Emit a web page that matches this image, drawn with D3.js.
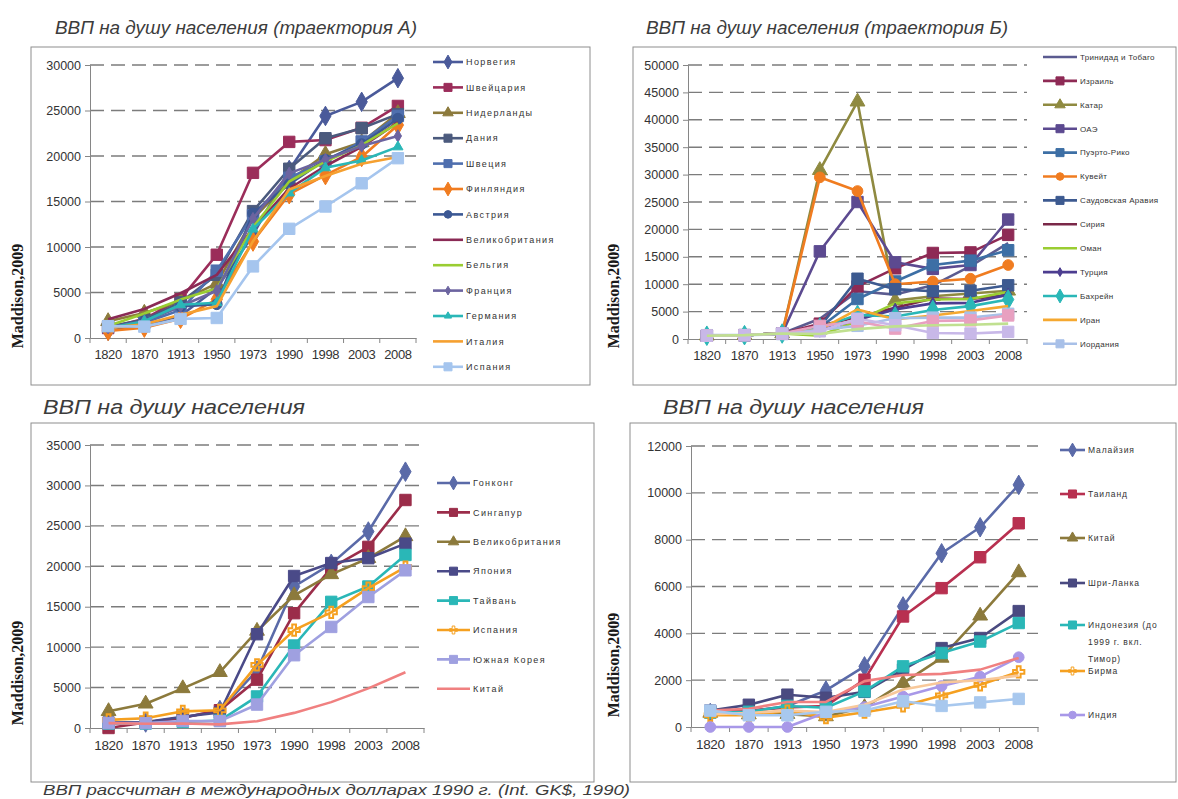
<!DOCTYPE html>
<html>
<head>
<meta charset="utf-8">
<script src="https://cdn.jsdelivr.net/npm/d3@7"></script>
<style>
  body { margin: 0; background: #fff; }
  svg text { font-family: Arial, "Liberation Sans", sans-serif; }
</style>
</head>
<body>
<svg id="chart" width="1178" height="799"></svg>
<script>
// ---- data (GDP per capita, 1990 Int. GK$) ----
const years = ['1820', '1870', '1913', '1950', '1973', '1990', '1998', '2003', '2008'];

// trajectory A
const namesA = ['Норвегия', 'Швейцария', 'Нидерланды', 'Дания', 'Швеция', 'Финляндия', 'Австрия',
  'Великобритания', 'Бельгия', 'Франция', 'Германия', 'Италия', 'Испания'];
const valuesA = [
  [801, 1360, 2447, 5463, 11324, 18466, 24400, 25950, 28550],
  [1090, 2102, 4266, 9150, 18150, 21550, 21750, 23100, 25500],
  [1838, 2757, 4049, 5996, 13081, 17262, 20200, 21500, 24700],
  [1274, 2003, 3912, 6943, 13945, 18600, 21950, 23050, 24600],
  [1198, 1662, 3073, 7400, 13493, 17609, 19400, 21600, 24400],
  [781, 1140, 2111, 4253, 10600, 15800, 17900, 19900, 23400],
  [1218, 1863, 3465, 3706, 13700, 16895, 19600, 21300, 24100],
  [2074, 3190, 4921, 6939, 12025, 16430, 18900, 21000, 23700],
  [1319, 2692, 4220, 5462, 12170, 17197, 19400, 21200, 23600],
  [1135, 1876, 3485, 5186, 13114, 18093, 19600, 21100, 22200],
  [1077, 1839, 3648, 3881, 11966, 15929, 18700, 19500, 21000],
  [1117, 1499, 2564, 3502, 10634, 16313, 17800, 19150, 19900],
  [1300, 1250, 2100, 2200, 7870, 12000, 14450, 17000, 19760]
];

// trajectory B (last three series are not listed in the legend)
const namesB = ['Тринидад и Тобаго', 'Израиль', 'Катар', 'ОАЭ', 'Пуэрто-Рико', 'Кувейт',
  'Саудовская Аравия', 'Сирия', 'Оман', 'Турция', 'Бахрейн', 'Иран', 'Иордания',
  'Ливан', 'Ирак', 'Йемен'];
const valuesB = [
  [600, 700, 1000, 3700, 8700, 8100, 9800, 13300, 17500],
  [600, 700, 1000, 2800, 9600, 12900, 15700, 15800, 19000],
  [600, 700, 1000, 30800, 43300, 7000, 7800, 8300, 8800],
  [600, 700, 1000, 16000, 25000, 14000, 12800, 13500, 21800],
  [600, 700, 1000, 2100, 7300, 10500, 13500, 14300, 16200],
  [600, 700, 1000, 29500, 27000, 10000, 10500, 11000, 13500],
  [600, 700, 1000, 2200, 11000, 9100, 8700, 8800, 9800],
  [600, 700, 1000, 2400, 4000, 5700, 7400, 7300, 8000],
  [600, 700, 1000, 600, 3300, 6500, 7200, 7300, 8600],
  [600, 700, 1000, 1600, 3500, 5400, 6500, 6600, 8100],
  [600, 700, 1000, 2100, 4400, 4100, 5300, 6000, 7200],
  [600, 700, 1000, 1700, 5400, 3600, 4300, 5100, 6000],
  [700, 700, 900, 1700, 2400, 3800, 3900, 3900, 4600],
  [600, 700, 1000, 2400, 3200, 1900, 3300, 3400, 4300],
  [600, 700, 1000, 1400, 3700, 2500, 1100, 1000, 1300],
  [600, 700, 1000, 900, 1800, 2300, 2500, 2600, 2800]
];

// East Asia vs UK / Spain
const namesC = ['Гонконг', 'Сингапур', 'Великобритания', 'Япония', 'Тайвань', 'Испания', 'Южная Корея', 'Китай'];
const valuesC = [
  [600, 680, 1280, 2220, 7100, 17500, 20300, 24300, 31700],
  [0, 680, 1280, 2200, 5980, 14200, 19800, 22400, 28200],
  [2070, 3000, 4900, 6900, 12000, 16400, 19000, 21000, 23700],
  [670, 740, 1390, 1920, 11600, 18800, 20400, 21000, 22800],
  [550, 550, 750, 920, 3900, 10200, 15600, 17500, 21400],
  [1010, 1210, 2060, 2190, 7800, 12100, 14300, 17300, 19900],
  [600, 600, 870, 850, 2900, 9000, 12500, 16200, 19500],
  [600, 530, 550, 450, 840, 1870, 3200, 4900, 6900]
];

// South / South-East Asia (last three series are not listed in the legend)
const namesD = ['Малайзия', 'Таиланд', 'Китай', 'Шри-Ланка', 'Индонезия (до 1999 г. вкл. Тимор)',
  'Бирма', 'Индия', 'Филиппины', 'Пакистан', 'Бангладеш'];
const valuesD = [
  [600, 660, 900, 1560, 2590, 5150, 7420, 8530, 10340],
  [650, 700, 840, 900, 2020, 4720, 5930, 7250, 8700],
  [600, 530, 550, 450, 840, 1870, 2950, 4750, 6600],
  [700, 950, 1380, 1250, 1500, 2450, 3370, 3800, 4950],
  [610, 650, 900, 820, 1520, 2590, 3160, 3650, 4440],
  [500, 500, 680, 400, 630, 900, 1350, 1800, 2350],
  [0, 0, 0, 620, 850, 1300, 1750, 2150, 2980],
  [700, 780, 1070, 1070, 1960, 2220, 2270, 2450, 2950],
  [550, 600, 700, 640, 950, 1600, 1900, 2000, 2200],
  [700, 500, 500, 650, 700, 1100, 900, 1050, 1200]
];

// ---- styles ----
const colorsA = ['#4a5a9a', '#9b2d5a', '#8c7a3c', '#4b5a7d', '#4f6fae', '#f07c20', '#3b5894',
  '#8a2a55', '#9acd32', '#6c64a0', '#2ab7b7', '#f5a030', '#a5c5ee'];
const marksA = ['D', 'S', 'T', 'S', 'S', 'D', 'C', '', '', 'd', 't', '', 'S'];
const colorsB = ['#5b5b90', '#8e2a55', '#8f8a40', '#5c4a90', '#3d6fa5', '#f07c20', '#3d5a90',
  '#7a2848', '#9acd32', '#4c3d90', '#2ab7b7', '#f5a830', '#a8c0e8', '#e8a0c0', '#c8b8e8', '#c0e090'];
const marksB = ['', 'S', 'T', 'S', 'S', 'C', 'S', '', '', 'd', 'D', '', 'S', 'S', 'S', ''];
const colorsC = ['#5a6aa8', '#9b2d4a', '#8c7a3c', '#4a4a88', '#2ab7b7', '#f5a020', '#9fa0e0', '#f08080'];
const marksC = ['D', 'S', 'T', 'S', 'S', 'X', 'S', ''];
const colorsD = ['#5a6aa8', '#b83050', '#8c7a3c', '#4a4a80', '#2ab7b7', '#f5a020', '#a898e8',
  '#f08080', '#f8c89a', '#a8c8ee'];
const marksD = ['D', 'S', 'T', 'S', 'S', 'X', 'C', '', '', 'S'];

const panels = [
  { title: 'ВВП на душу населения (траектория А)', tx: 55, ty: 34, tlen: 362, tsize: 18,
    frame: [31, 47, 590, 385], lab: [23, 296], xfont: 13,
    plot: [90, 416, 338, 65], yMax: 30000, yStep: 5000,
    names: namesA, values: valuesA, colors: colorsA, marks: marksA, nLeg: 13,
    leg: { x0: 433, x1: 463, rows: d3.range(13).map(i => 62 + i * 25.4), size: 9, ls: 1.4 } },
  { title: 'ВВП на душу населения (траектория Б)', tx: 646, ty: 34, tlen: 362, tsize: 18,
    frame: [633, 47, 1176, 385], lab: [619, 296], xfont: 13,
    plot: [688, 1027, 339, 65], yMax: 50000, yStep: 5000,
    names: namesB, values: valuesB, colors: colorsB, marks: marksB, nLeg: 13,
    leg: { x0: 1043, x1: 1077, rows: d3.range(13).map(i => 57 + i * 23.9), size: 8, ls: 0.3 } },
  { title: 'ВВП на душу населения', tx: 43, ty: 414, tlen: 262, tsize: 19.5,
    frame: [31, 423, 594, 782], lab: [23, 673], xfont: 13.5,
    plot: [90, 424, 728, 445], yMax: 35000, yStep: 5000,
    names: namesC, values: valuesC, colors: colorsC, marks: marksC, nLeg: 8,
    leg: { x0: 437, x1: 470, rows: d3.range(8).map(i => 483 + i * 29.4), size: 9, ls: 1.4 } },
  { title: 'ВВП на душу населения', tx: 663, ty: 414, tlen: 261, tsize: 19.5,
    frame: [630, 423, 1176, 782], lab: [619, 665], xfont: 13.5,
    plot: [691, 1038, 727, 446], yMax: 12000, yStep: 2000,
    names: namesD, values: valuesD, colors: colorsD, marks: marksD, nLeg: 7,
    leg: { x0: 1060, x1: 1085, rows: [450, 494, 538, 583, 625, 671, 715], size: 8.5, ls: 0.9, wrap: 13 } }
];

const svg = d3.select('#chart');
const symType = { D: d3.symbolDiamond, d: d3.symbolDiamond, S: d3.symbolSquare, T: d3.symbolTriangle,
  t: d3.symbolTriangle, C: d3.symbolCircle, X: d3.symbolCross };
const symSize = { D: 110, d: 45, S: 130, T: 95, t: 45, C: 90, X: 70 };

function wrapWords(s, n) {
  const out = [];
  let cur = '';
  s.split(' ').forEach(w => {
    if (cur && (cur + ' ' + w).length > n) { out.push(cur); cur = w; }
    else cur = cur ? cur + ' ' + w : w;
  });
  out.push(cur);
  return out;
}

function drawPanel(p) {
  const g = svg.append('g');
  const [fx0, fy0, fx1, fy1] = p.frame;
  g.append('rect')
    .attr('x', fx0).attr('y', fy0)
    .attr('width', fx1 - fx0).attr('height', fy1 - fy0)
    .attr('fill', 'none').attr('stroke', '#8e8e8e').attr('stroke-width', 1);

  g.append('text')
    .attr('x', p.tx).attr('y', p.ty)
    .attr('textLength', p.tlen).attr('lengthAdjust', 'spacingAndGlyphs')
    .style('font-size', p.tsize + 'px').style('font-style', 'italic')
    .attr('fill', '#3c3c3c')
    .text(p.title);

  g.append('text')
    .attr('transform', `translate(${p.lab[0]},${p.lab[1]}) rotate(-90)`)
    .attr('text-anchor', 'middle')
    .style('font-family', '"Liberation Serif", "DejaVu Serif", serif')
    .style('font-size', '16px').style('font-weight', 600)
    .attr('fill', '#1a1a1a')
    .text('Maddison,2009');

  const [px0, px1, py0, py1] = p.plot;
  const x = d3.scaleBand().domain(years).range([px0, px1]);
  const y = d3.scaleLinear().domain([0, p.yMax]).range([py0, py1]);
  const ticks = d3.range(0, p.yMax + 1, p.yStep);

  // dashed gridlines
  g.append('g').selectAll('line')
    .data(ticks.filter(v => v > 0))
    .join('line')
    .attr('x1', px0).attr('x2', px1)
    .attr('y1', d => y(d)).attr('y2', d => y(d))
    .attr('stroke', '#7c7c7c').attr('stroke-width', 1.4)
    .attr('stroke-dasharray', '14,7');

  // y axis
  const ya = g.append('g')
    .attr('transform', `translate(${px0},0)`)
    .call(d3.axisLeft(y).tickValues(ticks).tickSize(5).tickPadding(4).tickFormat(d3.format('d')));
  ya.selectAll('path, line').attr('stroke', '#868686');
  ya.selectAll('text').style('font-size', '12.5px').attr('fill', '#333');

  // x axis: labels at category centres, tick marks between categories
  const xa = g.append('g')
    .attr('transform', `translate(0,${py0})`)
    .call(d3.axisBottom(x).tickSize(0).tickPadding(12));
  xa.select('path').attr('stroke', '#868686');
  xa.selectAll('text').style('font-size', p.xfont + 'px').style('letter-spacing', '-0.4px').attr('fill', '#333');
  xa.selectAll('.edge')
    .data(years.map(d => x(d)).concat([px1]))
    .join('line')
    .attr('x1', d => d).attr('x2', d => d)
    .attr('y1', 0).attr('y2', 5)
    .attr('stroke', '#868686');

  const line = d3.line()
    .defined(d => d != null)
    .x((d, i) => x(years[i]) + x.bandwidth() / 2)
    .y(d => y(d));

  p.values.forEach((vals, si) => {
    const col = p.colors[si];
    g.append('path')
      .attr('d', line(vals))
      .attr('fill', 'none').attr('stroke', col)
      .attr('stroke-width', 2.6).attr('stroke-linejoin', 'round');
    const m = p.marks[si];
    if (m) {
      g.append('g').selectAll('path')
        .data(vals.map((v, i) => [years[i], v]).filter(d => d[1] != null))
        .join('path')
        .attr('transform', d => `translate(${x(d[0]) + x.bandwidth() / 2},${y(d[1])})`)
        .attr('d', d3.symbol().type(symType[m]).size(symSize[m]))
        .attr('fill', m === 'X' ? 'none' : col)
        .attr('stroke', col).attr('stroke-width', m === 'X' ? 2 : 1);
    }
  });

  // legend
  const L = p.leg;
  for (let i = 0; i < p.nLeg; i++) {
    const ry = L.rows[i];
    const col = p.colors[i];
    g.append('line')
      .attr('x1', L.x0).attr('x2', L.x1).attr('y1', ry).attr('y2', ry)
      .attr('stroke', col).attr('stroke-width', 2.6);
    const m = p.marks[i];
    if (m) {
      g.append('path')
        .attr('transform', `translate(${(L.x0 + L.x1) / 2},${ry})`)
        .attr('d', d3.symbol().type(symType[m]).size(symSize[m] * 0.5))
        .attr('fill', m === 'X' ? 'none' : col).attr('stroke', col);
    }
    const lines = L.wrap ? wrapWords(p.names[i], L.wrap) : [p.names[i]];
    lines.forEach((t, k) => {
      g.append('text')
        .attr('x', L.x1 + 3).attr('y', ry + k * 17)
        .attr('dy', '0.35em')
        .style('font-size', L.size + 'px').style('letter-spacing', L.ls + 'px')
        .attr('fill', '#333')
        .text(t);
    });
  }
}

panels.forEach(drawPanel);

svg.append('text')
  .attr('x', 43).attr('y', 795)
  .attr('textLength', 587).attr('lengthAdjust', 'spacingAndGlyphs')
  .style('font-size', '15.5px').style('font-style', 'italic')
  .attr('fill', '#3c3c3c')
  .text('ВВП рассчитан в международных долларах 1990 г. (Int. GK$, 1990)');
</script>
</body>
</html>
